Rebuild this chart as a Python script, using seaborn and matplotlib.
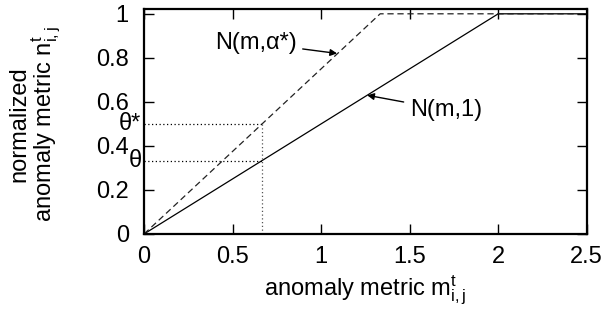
import matplotlib
matplotlib.use("Agg")
import matplotlib.pyplot as plt
import seaborn as sns
import pandas as pd

# data
m_solid = [0.0, 2.0, 2.5]
n_solid = [0.0, 1.0, 1.0]
m_dashed = [0.0, 1.3333, 2.5]
n_dashed = [0.0, 1.0, 1.0]
m_threshold = 0.6667
theta = 0.3333
theta_star = 0.5
x_ticks = [0, 0.5, 1, 1.5, 2, 2.5]
x_tick_labels = ["0", "0.5", "1", "1.5", "2", "2.5"]
y_ticks = [0, 0.2, 0.4, 0.6, 0.8, 1]
y_tick_labels = ["0", "0.2", "0.4", "0.6", "0.8", "1"]

sns.set_theme(style="white")
plt.rcParams['font.family'] = ['Liberation Sans', 'DejaVu Sans']
plt.rcParams['mathtext.fontset'] = 'custom'
plt.rcParams['mathtext.rm'] = 'Liberation Sans'
plt.rcParams['mathtext.it'] = 'Liberation Sans'
plt.rcParams['mathtext.bf'] = 'Liberation Sans'

fig = plt.figure(figsize=(6.08, 3.2), dpi=100)
ax = fig.add_axes([0.237, 0.269, 0.728, 0.7016])

df_s = pd.DataFrame({"m": m_solid, "n": n_solid})
df_d = pd.DataFrame({"m": m_dashed, "n": n_dashed})
sns.lineplot(data=df_s, x="m", y="n", ax=ax, color="black", linewidth=0.9, sort=False)
sns.lineplot(data=df_d, x="m", y="n", ax=ax, color="#222222", linewidth=0.9,
             linestyle=(0, (5, 3)), sort=False)

# dotted guide lines
ax.plot([0, m_threshold], [theta_star, theta_star], color="black", linestyle=(0, (1, 2)), linewidth=0.9)
ax.plot([0, m_threshold], [theta, theta], color="black", linestyle=(0, (1, 2)), linewidth=0.9)
ax.plot([m_threshold, m_threshold], [0, theta_star], color="#555555", linestyle=(0, (1, 2)), linewidth=0.9)

ax.set_xlim(0, 2.5)
ax.set_ylim(0, 1.02)
ax.set_xticks(x_ticks)
ax.set_xticklabels(x_tick_labels)
ax.set_yticks(y_ticks)
ax.set_yticklabels(y_tick_labels)
ax.tick_params(direction="in", length=7, width=1.0, labelsize=17, colors="black",
               top=True, right=True, bottom=True, left=True)
ax.tick_params(axis="y", pad=11)
ax.tick_params(axis="x", pad=9)
for s in ax.spines.values():
    s.set_visible(True)
    s.set_color("black")
    s.set_linewidth(1.6)

ax.set_xlabel(r"anomaly metric m$_{\mathrm{i,j}}^{\mathrm{t}}$", fontsize=17, color="black", labelpad=4)
ax.set_ylabel("normalized\n" + r"anomaly metric n$_{\mathrm{i,j}}^{\mathrm{t}}$", fontsize=17,
              color="black", linespacing=0.95)
ax.yaxis.set_label_coords(-0.183, 0.49)

# theta labels outside the axis
ax.text(-0.006, theta_star, r"θ*", transform=ax.get_yaxis_transform(), ha="right", va="center",
        fontsize=17, color="black")
ax.text(-0.006, theta, r"θ", transform=ax.get_yaxis_transform(), ha="right", va="center",
        fontsize=17, color="black")

# annotations
ax.annotate("N(m,α*)", xy=(1.09, 0.82), xytext=(0.40, 0.868), fontsize=17, color="black",
            ha="left", va="center",
            arrowprops=dict(arrowstyle="-|>", color="black", lw=1.0, mutation_scale=10,
                            shrinkA=2, shrinkB=0))
ax.annotate("N(m,1)", xy=(1.26, 0.63), xytext=(1.5, 0.564), fontsize=17, color="black",
            ha="left", va="center",
            arrowprops=dict(arrowstyle="-|>", color="black", lw=1.0, mutation_scale=10,
                            shrinkA=2, shrinkB=0))

fig.savefig("out.png", dpi=100)
